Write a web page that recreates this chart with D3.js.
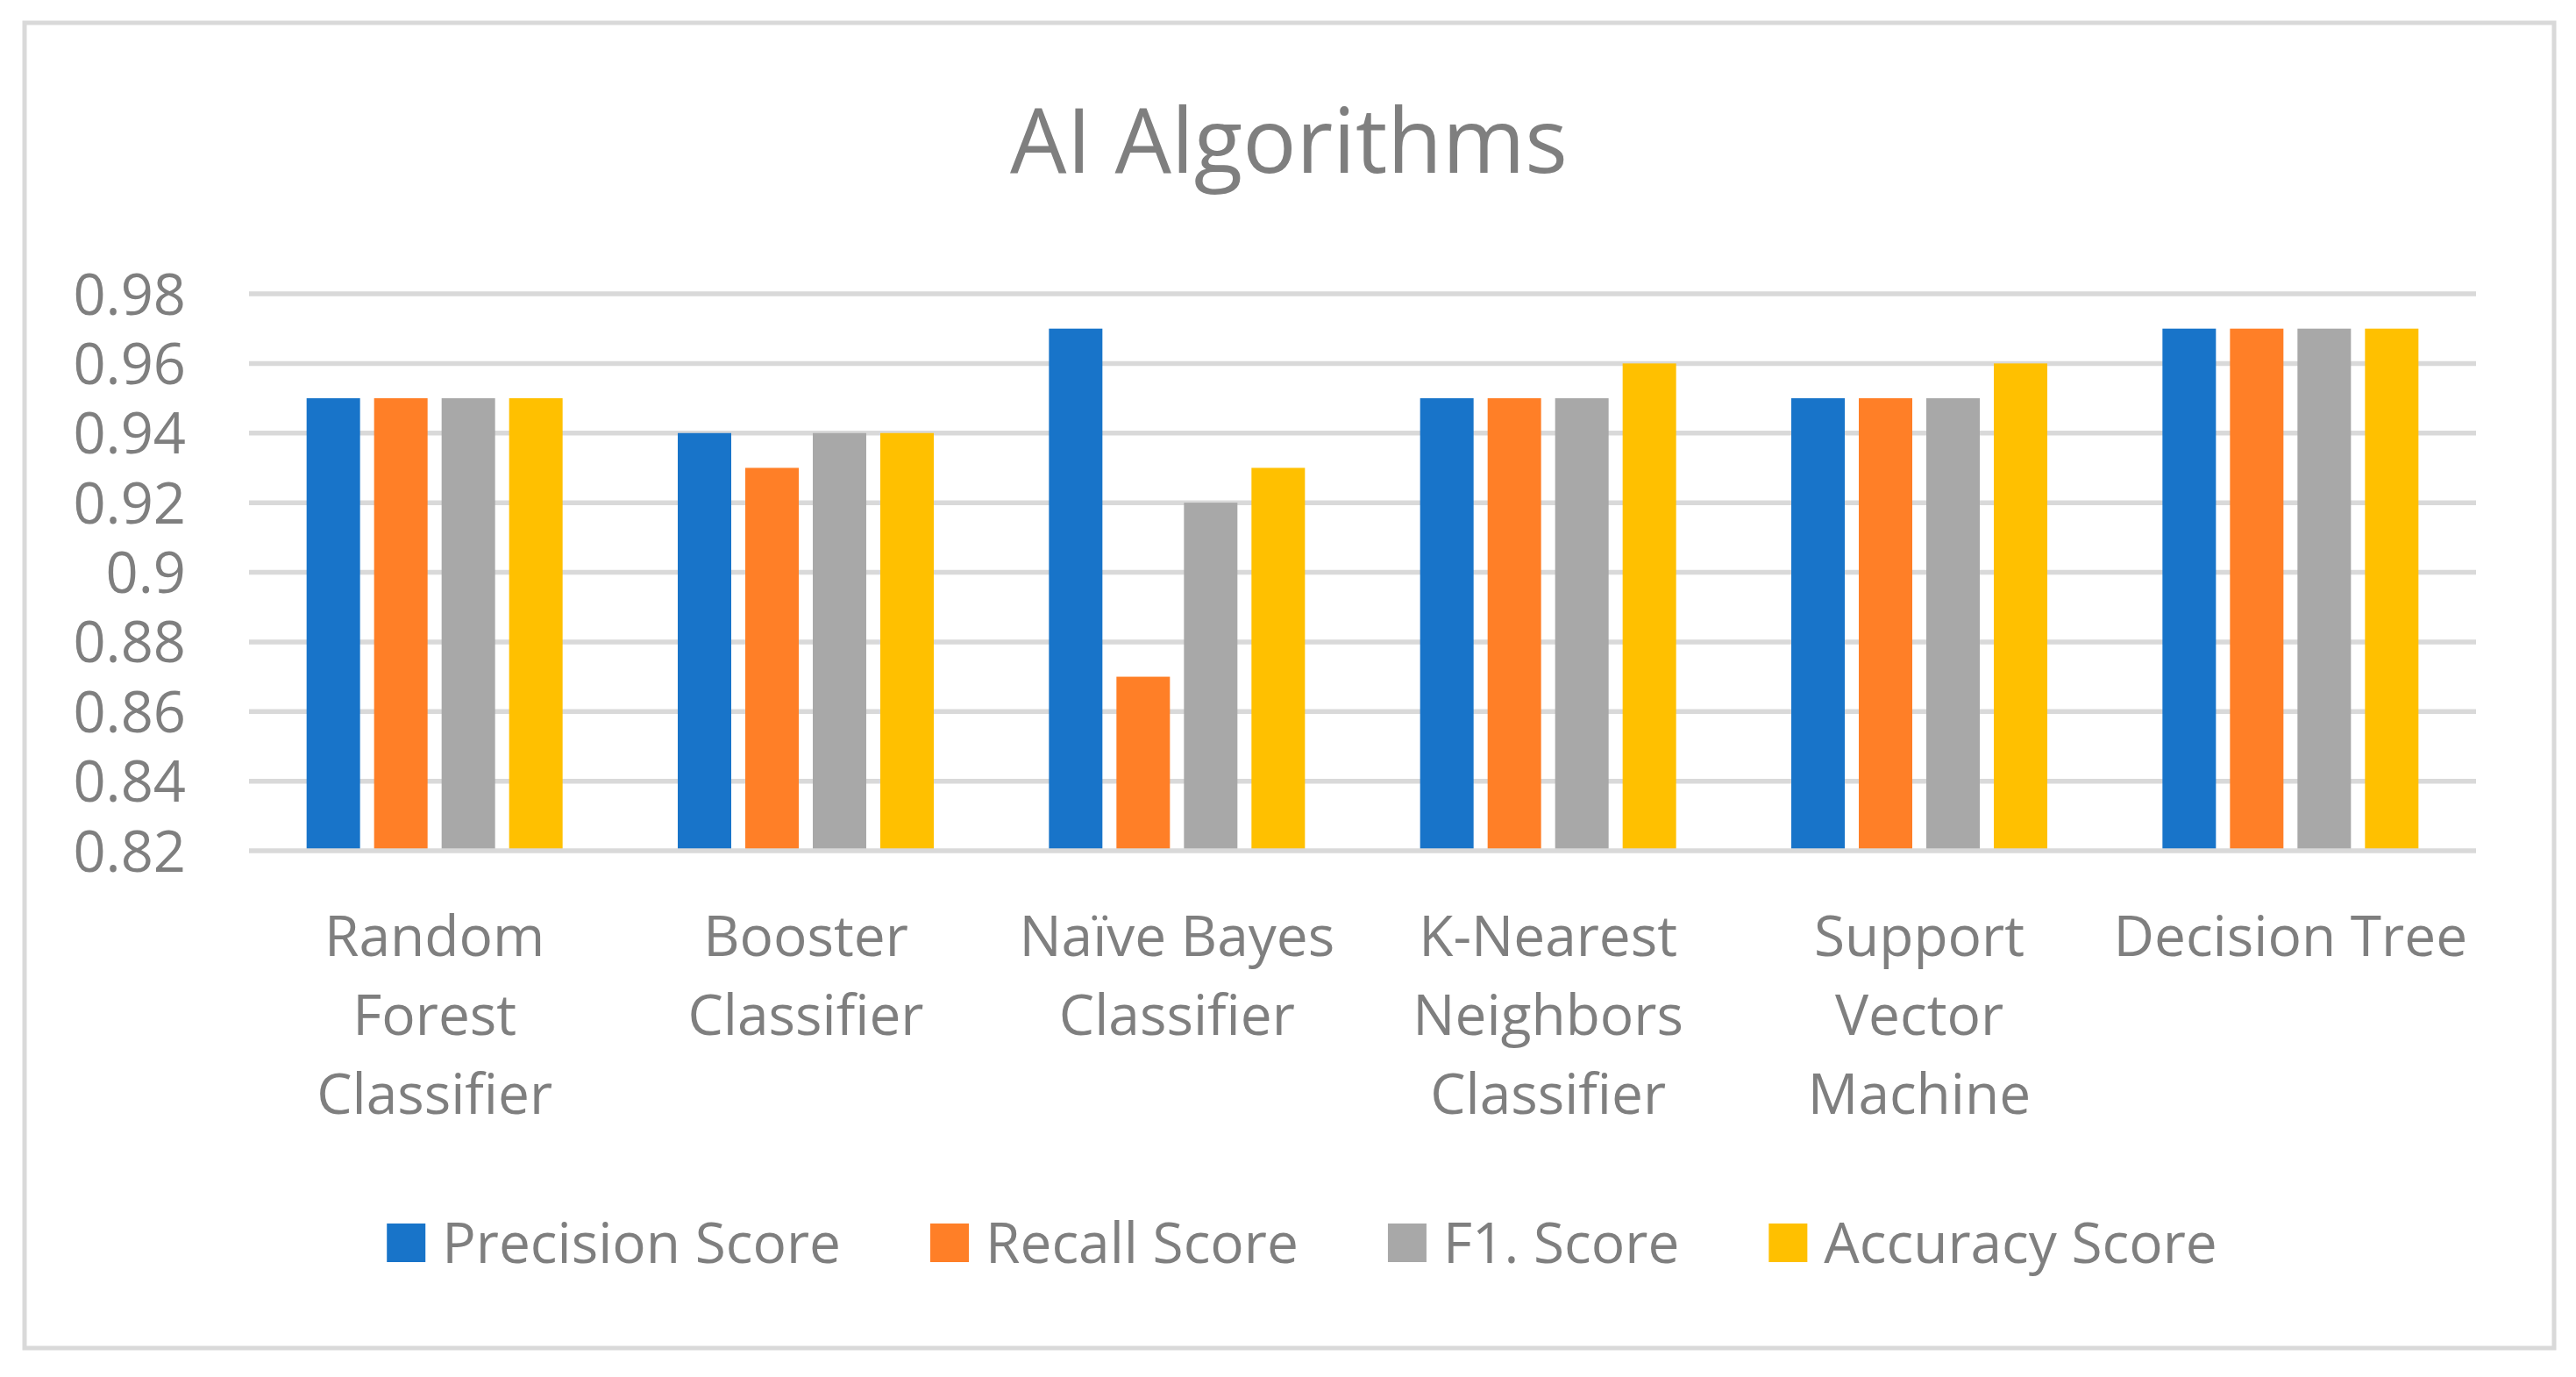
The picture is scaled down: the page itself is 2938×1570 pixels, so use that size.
<!DOCTYPE html>
<html>
<head>
<meta charset="utf-8">
<script src="https://cdn.jsdelivr.net/npm/d3@7"></script>
<style>
  body { margin: 0; background: #fff; }
  text { font-family: "Open Sans", sans-serif; fill: #7f7f7f; }
</style>
</head>
<body>
<div id="chart"></div>
<script>
const categories = [
  "Random Forest Classifier",
  "Booster Classifier",
  "Naïve Bayes Classifier",
  "K-Nearest Neighbors Classifier",
  "Support Vector Machine",
  "Decision Tree"
];

const seriesNames = ["Precision Score", "Recall Score", "F1. Score", "Accuracy Score"];

const precision = [0.95, 0.94, 0.97, 0.95, 0.95, 0.97];
const recall    = [0.95, 0.93, 0.87, 0.95, 0.95, 0.97];
const f1        = [0.95, 0.94, 0.92, 0.95, 0.95, 0.97];
const accuracy  = [0.95, 0.94, 0.93, 0.96, 0.96, 0.97];

const yTicks = [0.82, 0.84, 0.86, 0.88, 0.9, 0.92, 0.94, 0.96, 0.98];

const colors = ["#1874c9", "#ff7f27", "#a8a8a8", "#ffc000"];

const width = 2938, height = 1570;
const plot = {left: 284, right: 2824, top: 335, bottom: 970};

const series = [precision, recall, f1, accuracy];

const svg = d3.select("#chart").append("svg")
    .attr("width", width)
    .attr("height", height);

// outer border
svg.append("rect")
    .attr("x", 28).attr("y", 26)
    .attr("width", 2885).attr("height", 1511)
    .attr("fill", "#fff")
    .attr("stroke", "#d9d9d9")
    .attr("stroke-width", 5);

svg.append("text")
    .attr("x", 1470).attr("y", 197)
    .attr("text-anchor", "middle")
    .style("font-size", "102px")
    .text("AI Algorithms");

const y = d3.scaleLinear()
    .domain([0.82, 0.98])
    .range([plot.bottom, plot.top]);

const x0 = d3.scaleBand()
    .domain(categories)
    .range([plot.left, plot.right]);

const x1 = d3.scaleBand()
    .domain(seriesNames)
    .range([0, x0.bandwidth()])
    .paddingInner(0.208)
    .paddingOuter(0.853);

// gridlines
svg.append("g").selectAll("line")
    .data(yTicks.slice(1)).enter().append("line")
    .attr("x1", plot.left).attr("x2", plot.right)
    .attr("y1", d => y(d)).attr("y2", d => y(d))
    .attr("stroke", "#d9d9d9")
    .attr("stroke-width", 5.5);

// y labels
const yAxis = d3.axisLeft(y).tickValues(yTicks).tickSize(0).tickPadding(0)
    .tickFormat(d => String(+d.toFixed(2)));
const yg = svg.append("g")
    .attr("transform", `translate(212,0)`)
    .call(yAxis);
yg.select(".domain").remove();
yg.selectAll("text")
    .attr("fill", null)
    .attr("dy", null)
    .attr("y", 23)
    .style("font-size", "65px")
    .style("font-family", null);
yg.attr("font-family", null).attr("font-size", null);

// bars
const groups = svg.append("g").selectAll("g")
    .data(categories).enter().append("g")
    .attr("transform", d => `translate(${x0(d)},0)`);

groups.selectAll("rect")
    .data((d, i) => series.map((s, j) => ({name: seriesNames[j], value: s[i], j})))
    .enter().append("rect")
    .attr("x", d => x1(d.name))
    .attr("width", x1.bandwidth())
    .attr("y", d => y(d.value))
    .attr("height", d => y(0.82) - y(d.value))
    .attr("fill", d => colors[d.j]);

// baseline
svg.append("line")
    .attr("x1", plot.left).attr("x2", plot.right)
    .attr("y1", y(0.82)).attr("y2", y(0.82))
    .attr("stroke", "#d9d9d9")
    .attr("stroke-width", 5.5);

// category labels, wrapped to the band width
const labelY = 1090;
const catLabels = svg.append("g").selectAll("text")
    .data(categories).enter().append("text")
    .attr("text-anchor", "middle")
    .attr("x", d => x0(d) + x0.bandwidth() / 2)
    .attr("y", labelY)
    .style("font-size", "64px");

catLabels.each(function(d) {
  const t = d3.select(this);
  const words = d.split(" ");
  const maxW = x0.bandwidth() - 4;
  let lines = [], line = [];
  const probe = t.append("tspan");
  words.forEach(w => {
    const trial = line.concat([w]).join(" ");
    probe.text(trial);
    if (line.length && probe.node().getComputedTextLength() > maxW) {
      lines.push(line.join(" "));
      line = [w];
    } else {
      line.push(w);
    }
  });
  lines.push(line.join(" "));
  probe.remove();
  lines.forEach((l, i) => {
    t.append("tspan")
      .attr("x", x0(d) + x0.bandwidth() / 2)
      .attr("y", labelY + i * 90)
      .text(l);
  });
});

// legend
const legend = svg.append("g");
let lx = 0;
seriesNames.forEach((name, i) => {
  const item = legend.append("g").attr("transform", `translate(${lx},0)`);
  item.append("rect")
    .attr("x", 0).attr("y", -22)
    .attr("width", 44).attr("height", 44)
    .attr("fill", colors[i]);
  const txt = item.append("text")
    .attr("x", 63).attr("y", 23)
    .style("font-size", "64px")
    .text(name);
  lx += 63 + txt.node().getComputedTextLength() + 102;
});
const legendW = lx - 102;
legend.attr("transform", `translate(${1485 - legendW / 2},1417)`);
</script>
</body>
</html>
